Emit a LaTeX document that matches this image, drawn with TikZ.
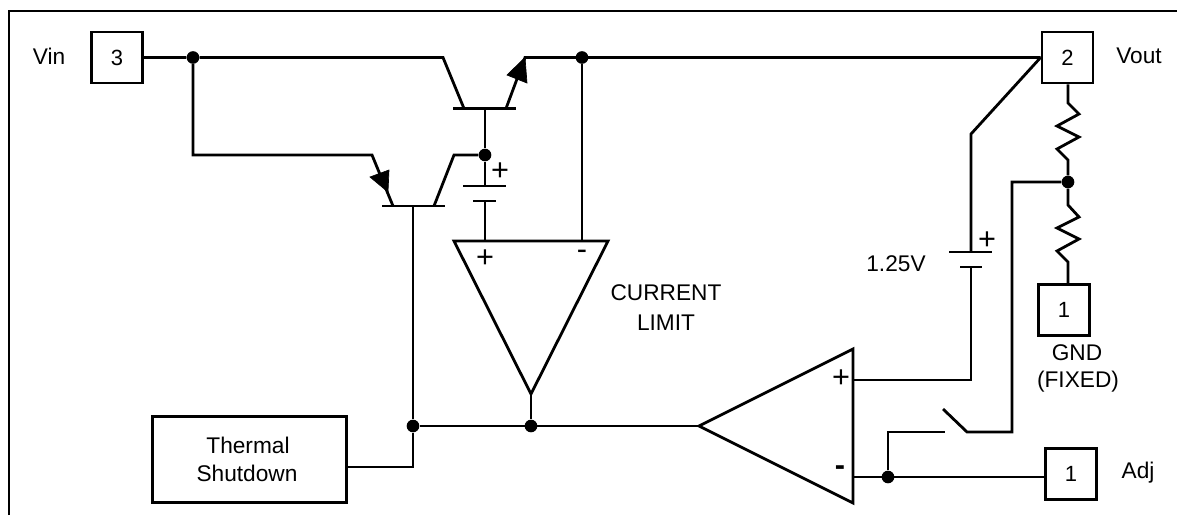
\documentclass[tikz,border=0pt]{standalone}
\usepackage{fontspec}
\setmainfont{Liberation Sans}
\begin{document}
\begin{tikzpicture}[x=0.75pt,y=-0.75pt,
  wire/.style={line width=2.1pt,line join=miter,line cap=butt},
  pin/.style={draw,line width=2.1pt,minimum width=38.2pt,minimum height=38.2pt,inner sep=0pt,font=\fontsize{16.5}{18}\selectfont},
  dot/.style={circle,fill=black,draw=none,minimum size=9.5pt,inner sep=0pt},
  lbl/.style={font=\fontsize{17}{18}\selectfont,inner sep=0pt,align=center},
  sign/.style={font=\fontsize{23}{24}\selectfont,inner sep=0pt},
  head/.style={fill=black,draw=black,line width=0.5pt,line join=miter}]
\useasboundingbox (0,0) rectangle (1177,515);
\fill[white] (0,0) rectangle (1177,515);
% frame
\draw[line width=2.2pt] (9,515) -- (9,11) -- (1177,11);
% pins
\node[pin] (p3) at (117,57.5) {3};
\node[pin] (p2) at (1067.5,57.5) {2};
\node[pin] (pg) at (1064,310) {1};
\node[pin] (pa) at (1071,474) {1};
\node[draw,line width=2.1pt,minimum width=146pt,minimum height=65pt,inner sep=0pt] (ts) at (249.5,459.5) {};
\node[lbl] (tst) at (248,445) {Thermal};
\node[lbl] (tss) at (247,473) {Shutdown};
% labels
\node[lbl] (vin) at (49,56) {Vin};
\node[lbl] (vout) at (1139,56) {Vout};
\node[lbl] (adj) at (1138,473) {Adj};
\node[lbl] (gnd) at (1077,353) {GND};
\node[lbl] (fix) at (1078,382) {(FIXED)};
\node[lbl] (cur) at (666,293) {CURRENT};
\node[lbl] (lim) at (666,323) {LIMIT};
\node[lbl] (v125) at (896,264) {1.25V};
% coordinates
\node[dot] (j1) at (193,57.5) {};
\node[dot] (j2) at (582,57.5) {};
\node[dot] (j3) at (485,155) {};
\node[dot] (j4) at (413,426) {};
\node[dot] (j5) at (531,426) {};
\node[dot] (j6) at (888,477) {};
\node[dot] (j7) at (1068,182) {};
\coordinate (q1c) at (443,57.5);
\coordinate (q1e) at (525,57.5);
\coordinate (q1bc) at (464,108.5);
\coordinate (q1be) at (506,108.5);
\coordinate (q1b) at (485,108.5);
\coordinate (q2a) at (372,155);
\coordinate (q2b) at (393,206);
\coordinate (q2c) at (434,206);
\coordinate (q2d) at (454,155);
\coordinate (q2m) at (413,206);
\coordinate (laT) at (485,241);
\coordinate (lbT) at (582,241);
\coordinate (laL) at (454,241);
\coordinate (laR) at (608,241);
\coordinate (laB) at (531,394);
\coordinate (oa) at (699,426);
\coordinate (ot) at (853,349);
\coordinate (ob) at (853,503);
\coordinate (op) at (853,380);
\coordinate (om) at (853,477);
% Q1
\draw[wire] (j1) -- (q1c) -- (q1bc);
\draw[wire] (453,108.5) -- (516,108.5);
\draw[wire] (q1be) -- (q1e) -- (p2.west);
\draw[head] (q1e) -- (507,75) -- (527,83) -- cycle;
% Q2
\draw[wire] (p3.east) -- (j1) -- (193,155) -- (q2a) -- (q2b);
\draw[wire] (382,206) -- (445,206);
\draw[wire] (q2c) -- (q2d) -- (j3);
\draw[head] (388,192) -- (370,177) -- (389,170) -- cycle;
% base line and battery
\draw[wire] (q1b) -- (j3) -- (485,186);
\draw[wire] (463,186) -- (506,186);
\draw[wire] (473,201) -- (496,201);
\draw[wire] (485,201) -- (laT);
\node[sign] (s1) at (500,172) {+};
% limit amp
\draw[wire] (laL) -- (laR) -- (laB) -- cycle;
\draw[wire] (j2) -- (lbT);
\draw[wire] (laB) -- (j5);
\node[sign] (s2) at (485,259) {+};
\node[sign] (s3) at (582,255) {-};
% thermal
\draw[wire] (q2m) -- (j4) -- (413,467) -- (ts.east |- 0,467);
\draw[wire] (j4) -- (oa);
% main amp
\draw[wire] (oa) -- (ot) -- (ob) -- cycle;
\node[sign] (s4) at (841,379) {+};
\node[sign,font=\fontsize{23}{24}\bfseries\selectfont] (s5) at (840,471) {-};
\draw[wire] (op) -- (971,380) -- (971,267);
\draw[wire] (960,267) -- (982,267);
\draw[wire] (949,252) -- (992,252);
\draw[wire] (971,252) -- (971,134) -- (p2.west);
\node[sign] (s6) at (987,241) {+};
% adj
\draw[wire] (om) -- (pa.west |- om);
\draw[wire] (j6) -- (888,432) -- (945,432);
\draw[wire] (943,409) -- (967,432) -- (1012,432) -- (1012,182) -- (j7);
% resistors
\draw[wire] (p2.south -| 1068,0) -- (1068,103) -- (1079,114) -- (1057,126) -- (1079,137) -- (1057,149) -- (1068,160) -- (j7)
  -- (1068,205) -- (1079,217) -- (1057,228) -- (1079,239) -- (1057,251) -- (1068,262) -- (1068,284);
\end{tikzpicture}
\end{document}
